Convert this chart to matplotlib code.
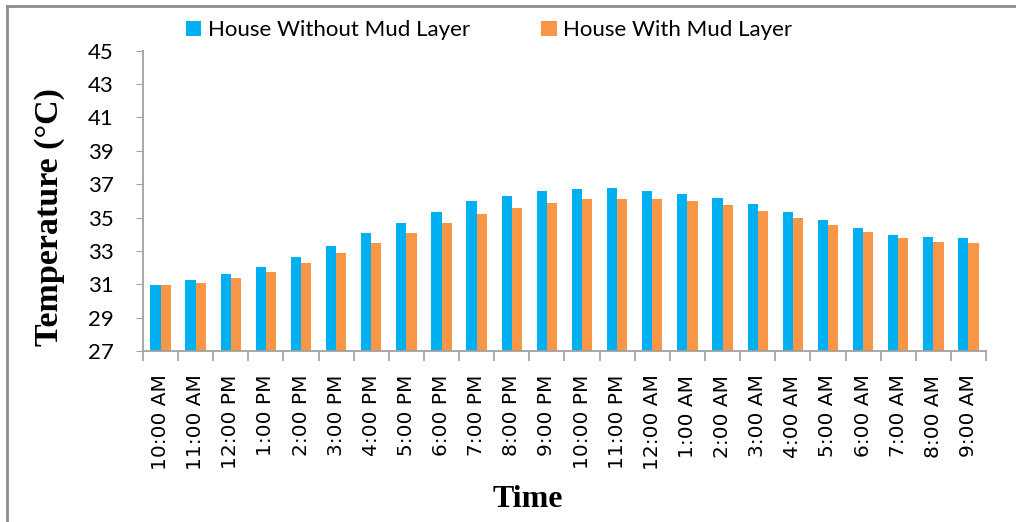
import numpy as np
import matplotlib
matplotlib.use("Agg")
import matplotlib.pyplot as plt
from matplotlib.lines import Line2D

# data
times = ["10:00 AM", "11:00 AM", "12:00 PM", "1:00 PM", "2:00 PM", "3:00 PM",
         "4:00 PM", "5:00 PM", "6:00 PM", "7:00 PM", "8:00 PM", "9:00 PM",
         "10:00 PM", "11:00 PM", "12:00 AM", "1:00 AM", "2:00 AM", "3:00 AM",
         "4:00 AM", "5:00 AM", "6:00 AM", "7:00 AM", "8:00 AM", "9:00 AM"]
without_mud = [30.95, 31.25, 31.6, 32.05, 32.65, 33.3, 34.05, 34.7, 35.35, 36.0,
               36.3, 36.6, 36.7, 36.75, 36.6, 36.4, 36.17, 35.8, 35.35, 34.85,
               34.35, 33.97, 33.83, 33.75]
with_mud = [30.93, 31.1, 31.4, 31.75, 32.27, 32.87, 33.45, 34.05, 34.65, 35.2,
            35.57, 35.87, 36.1, 36.1, 36.1, 35.97, 35.75, 35.37, 35.0, 34.55,
            34.13, 33.75, 33.52, 33.47]

blue = "#00b0f0"
orange = "#f79646"
grey = "#a0a0a0"

fig = plt.figure(figsize=(10.16, 5.22), dpi=100)
ax = fig.add_axes([0.1407, 0.3276, 0.8298, 0.5753])

x = np.arange(len(times))
w = 0.29
ax.bar(x - w / 2, np.array(without_mud) - 27, w, bottom=27, color=blue,
       label="House Without Mud Layer")
ax.bar(x + w / 2, np.array(with_mud) - 27, w, bottom=27, color=orange,
       label="House With Mud Layer")

ax.set_xlim(-0.5, len(times) - 0.5)
ax.set_ylim(27, 45)
ax.set_yticks(np.arange(27, 46, 2))
ax.set_yticklabels([str(v) for v in range(27, 46, 2)], family="Lato", fontsize=16)
ax.tick_params(axis="y", length=5, color=grey, pad=16)

# category labels in the middle, ticks on the boundaries
ax.set_xticks(x)
ax.set_xticklabels(times, rotation=90, fontsize=14.5, family="DejaVu Sans")
ax.tick_params(axis="x", length=0, pad=17)
ax.set_xticks(np.arange(-0.5, len(times)), minor=True)
ax.tick_params(axis="x", which="minor", length=7, color=grey, width=1.2)

for s in ["top", "right"]:
    ax.spines[s].set_visible(False)
for s in ["left", "bottom"]:
    ax.spines[s].set_color(grey)
    ax.spines[s].set_linewidth(1.3)

ax.set_ylabel("Temperature (\u00b0C)", family="Liberation Serif",
              fontweight="bold", fontsize=24.5)
ax.yaxis.set_label_coords(-0.092, 0.445)
ax.set_xlabel("Time", family="Liberation Serif", fontweight="bold",
              fontsize=23)
ax.xaxis.set_label_coords(0.457, -0.445)

ax.legend(loc="lower left", bbox_to_anchor=(0.04, 1.005), ncol=2, frameon=False,
          prop={"family": "Lato", "size": 16}, handlelength=0.7,
          handleheight=0.7, handletextpad=0.3, columnspacing=3.2,
          borderaxespad=0)

# border on the top and left of the picture
fig.add_artist(Line2D([0.0065, 0.0065], [0, 0.989], color="#8c8c8c", lw=2,
                      transform=fig.transFigure))
fig.add_artist(Line2D([0.0065, 1], [0.989, 0.989], color="#8c8c8c", lw=2,
                      transform=fig.transFigure))

fig.savefig("out.png", dpi=100)
